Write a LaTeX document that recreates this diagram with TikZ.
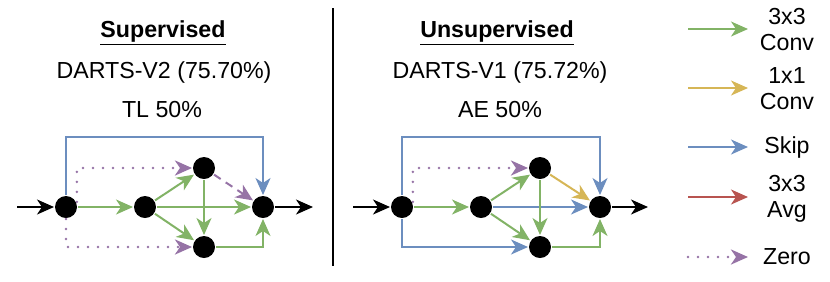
\documentclass[tikz,border=0pt]{standalone}
\usepackage{fontspec}
\setmainfont{Liberation Sans}
\usepackage{tikz}
\usetikzlibrary{arrows.meta,positioning}

\definecolor{convgreen}{HTML}{82B366}
\definecolor{convyellow}{HTML}{D6B656}
\definecolor{skipblue}{HTML}{6C8EBF}
\definecolor{avgred}{HTML}{B85450}
\definecolor{zeropurple}{HTML}{9673A6}

\tikzset{
  cellnode/.style={circle, fill=black, minimum size=11pt, inner sep=0pt},
  opconv/.style={->, draw=convgreen},
  oponeconv/.style={->, draw=convyellow},
  opskip/.style={->, draw=skipblue},
  opavg/.style={->, draw=avgred},
  opzero/.style={->, draw=zeropurple, line width=1.4pt, line cap=round, dash pattern=on 0pt off 5pt},
  opzerodash/.style={->, draw=zeropurple, dash pattern=on 4pt off 3pt},
  legendtext/.style={align=center},
}

\begin{document}
\begin{tikzpicture}[x=0.5pt, y=-0.5pt, >={Stealth[length=8.5pt,width=7.5pt,inset=2.5pt]},
    line width=1pt, font=\fontsize{11.6}{13}\selectfont]
  \useasboundingbox (0,0) rectangle (830,281);

  % titles
  \node[anchor=base] (suptitle) at (163,37) {\underline{\textbf{Supervised}}};
  \node[anchor=base] (supname) at (164,78) {DARTS-V2 (75.70\%)};
  \node[anchor=base] (supratio) at (162,117) {TL 50\%};
  \node[anchor=base] (unstitle) at (497,37) {\underline{\textbf{Unsupervised}}};
  \node[anchor=base] (unsname) at (500,78) {DARTS-V1 (75.72\%)};
  \node[anchor=base] (unsratio) at (500,117) {AE 50\%};

  % divider
  \coordinate (dtop) at (333,8);
  \coordinate (dbot) at (333,266);
  \draw (dtop) -- (dbot);

  % supervised cell
  \coordinate (ain) at (17,207);
  \coordinate (aout) at (313,207);
  \coordinate (askip) at (165,137);
  \node[cellnode] (a0) at (66,207) {};
  \node[cellnode] (a1) at (145,207) {};
  \node[cellnode] (a2) at (204,168) {};
  \node[cellnode] (a3) at (204,247) {};
  \node[cellnode] (a4) at (263,207) {};
  \draw[->] (ain) -- (a0);
  \draw[opskip] (a0) |- (askip) -| (a4);
  \draw[opzero] (a0.25) |- (a2);
  \draw[opzero] (a0) |- (a3);
  \draw[opconv] (a0) -- (a1);
  \draw[opconv] (a1) -- (a2);
  \draw[opconv] (a1) -- (a3);
  \draw[opconv] (a1) -- (a4);
  \draw[opconv] (a2) -- (a3);
  \draw[opconv] (a3) -| (a4);
  \draw[opzerodash] (a2) -- (a4);
  \draw[->] (a4) -- (aout);

  % unsupervised cell
  \coordinate (bin) at (353,207);
  \coordinate (bout) at (648,207);
  \coordinate (bskip) at (500,137);
  \node[cellnode] (b0) at (402,207) {};
  \node[cellnode] (b1) at (481,207) {};
  \node[cellnode] (b2) at (540,168) {};
  \node[cellnode] (b3) at (540,247) {};
  \node[cellnode] (b4) at (600,207) {};
  \draw[->] (bin) -- (b0);
  \draw[opskip] (b0) |- (bskip) -| (b4);
  \draw[opskip] (b0) |- (b3);
  \draw[opzero] (b0.25) |- (b2);
  \draw[opconv] (b0) -- (b1);
  \draw[opconv] (b1) -- (b2);
  \draw[opconv] (b1) -- (b3);
  \draw[opskip] (b1) -- (b4);
  \draw[opconv] (b2) -- (b3);
  \draw[opconv] (b3) -| (b4);
  \draw[oponeconv] (b2) -- (b4);
  \draw[->] (b4) -- (bout);

  % legend
  \coordinate (convs) at (688,29);   \coordinate (conve) at (748,29);
  \coordinate (ones) at (688,88);    \coordinate (onee) at (748,88);
  \coordinate (skips) at (688,147);  \coordinate (skipe) at (748,147);
  \coordinate (avgs) at (688,197);   \coordinate (avge) at (748,197);
  \coordinate (zeros) at (688,257);  \coordinate (zeroe) at (748,257);
  \draw[opconv] (convs) -- (conve);
  \draw[oponeconv] (ones) -- (onee);
  \draw[opskip] (skips) -- (skipe);
  \draw[opavg] (avgs) -- (avge);
  \draw[opzero] (zeros) -- (zeroe);
  \node[legendtext] (convlbl) at (787,30) {3x3\\Conv};
  \node[legendtext] (onelbl) at (787,89) {1x1\\Conv};
  \node[legendtext] (skiplbl) at (787,147) {Skip};
  \node[legendtext] (avglbl) at (787,199) {3x3\\Avg};
  \node[legendtext] (zerolbl) at (787,257) {Zero};
\end{tikzpicture}
\end{document}
